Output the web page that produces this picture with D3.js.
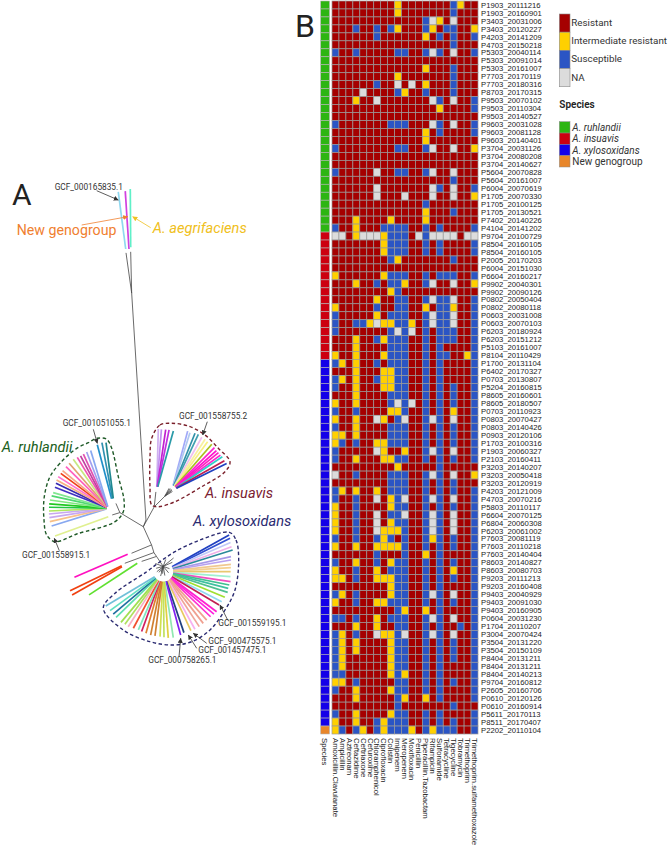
<!DOCTYPE html>
<html>
<head>
<meta charset="utf-8">
<script src="https://cdn.jsdelivr.net/npm/d3@7"></script>
<style>
  html, body { margin: 0; padding: 0; background: #fff; }
  text { font-family: Roboto, sans-serif; }
  .heat-label { font-family: "Liberation Sans", Arial, sans-serif; font-size: 7.7px; fill: #222; }
  .gcf { font-size: 8.3px; fill: #333; }
  .clade { font-size: 14.6px; font-style: italic; }
</style>
</head>
<body>
<div id="chart"></div>
<script>
/* DATA: HEATMAP */
const drugs = ["Amoxicillin.Clavulanate", "Ampicillin", "Aztreonam", "Ceftazidime", "Ceftriaxone", "Cefuroxime",
  "Chloramphenicol", "Ciprofloxacin", "Colistin", "Imipenem", "Meropenem", "Moxifloxacin", "Penicillin",
  "Piperacillin.Tazobactam", "Rifampicin", "Sulfonamide", "Tetracycline", "Tigecycline", "Tobramycin",
  "Trimethoprim", "Trimethoprim.sulfamethoxazole"];

const isolates = ["P1903_20111216", "P1903_20160901", "P3403_20031006", "P3403_20120227", "P4203_20141209",
  "P4703_20150218", "P5303_20040114", "P5303_20091014", "P5303_20161007", "P7703_20170119", "P7703_20180316",
  "P8703_20170315", "P9503_20070102", "P9503_20110304", "P9503_20140527", "P9603_20031028", "P9603_20081128",
  "P9603_20140401", "P3704_20031126", "P3704_20080208", "P3704_20140627", "P5604_20070828", "P5604_20161007",
  "P6004_20070619", "P1705_20070330", "P1705_20100125", "P1705_20130521", "P7402_20140226", "P4104_20141202",
  "P9704_20100729", "P8504_20160105", "P8504_20160105", "P2005_20170203", "P6004_20151030", "P6604_20160217",
  "P9902_20040301", "P9902_20090126", "P0802_20050404", "P0802_20080118", "P0603_20031008", "P0603_20070103",
  "P6203_20180924", "P6203_20151212", "P5103_20161007", "P8104_20110429", "P1700_20131104", "P6402_20170327",
  "P0703_20130807", "P5204_20160815", "P8605_20160601", "P8605_20180507", "P0703_20110923", "P0803_20070427",
  "P0803_20140426", "P0903_20120106", "P1703_20100316", "P1903_20060327", "P2103_20160411", "P3203_20140207",
  "P3203_20050418", "P3203_20120919", "P4203_20121009", "P4703_20070216", "P5803_20110117", "P6604_20070125",
  "P6804_20060308", "P6203_20061002", "P7603_20081119", "P7603_20110218", "P7603_20140404", "P8603_20140827",
  "P8603_20080703", "P9203_20111213", "P9203_20160408", "P9403_20040929", "P9403_20091030", "P9403_20160905",
  "P0604_20031230", "P1704_20110207", "P3004_20070424", "P3504_20131220", "P3504_20150109", "P8404_20131211",
  "P8404_20131211", "P8404_20140213", "P9704_20160812", "P2605_20160706", "P0610_20120126", "P0610_20160914",
  "P5611_20170113", "P8511_20170407", "P2202_20110104"];

// number of consecutive rows per species, top to bottom
const speciesNames = ["A. ruhlandii", "A. insuavis", "A. xylosoxidans", "New genogroup"];
const speciesCounts = [29, 16, 46, 1];
const speciesColors = ["#2db512", "#cc0010", "#1400e8", "#e8862a"];

const callNames = ["Resistant", "Intermediate resistant", "Susceptible", "NA"];
const callCodes = ["R", "I", "S", "N"];
const callColors = ["#a50000", "#ffd000", "#2b55c4", "#dcdcdc"];

// every cell is resistant unless listed here: I/S/N + drug positions
const calls = [
  "I9,18 S17", "I9 S17", "S13 N14,17 I15", "S3,6,8,13,16,17 I9,14,20", "S6,15,17,20 I13", "S17",
  "S0,3,9,10,13,15,20 N14,17", "", "I13 S17", "I9 S17", "S6,17 N9,11 I13", "N4 S9,13,17 I10",
  "I3 N6,14,17 S15,20", "I15 S20", "", "S0,8,9,10,15,20 N14,17", "I13 S15,20", "I13",
  "S0,9,10,13 N14,17 I20", "", "", "S0,9,10,13 N6,14,17", "S17", "N6,14,17 S15,20",
  "N6,10,14,17 I20", "S13", "I13 S17", "I3,8,13", "S0,7,8,9,10,13,15,20 I3",
  "N0,1,4,5,6,12,14,15,16,17,19,20 I3,7 S8,9,10,13",
  "I7 S8,9,10,13,15,20", "I7 S8,9,10,13,15,20", "S8,17 I9", "", "I0,7 S8,9,10,13,15,16,17,20",
  "I3,10,20 S6,8,9,13 N14,17", "I8 S9", "I6 S9,10,13,15,16,20 N14,17", "I0,13,17 S6,9,10,15,16,20",
  "S0,8,9,10,13,15,16,20 I6 N14,17", "S0,3,4,9,10,13,15,16,20 I5,7,8,11 N6,14,17",
  "S0,8,10,13,15,16,17,20 N9,11", "I3,7 S6,8,9,10,13,15,16,17,20", "I3 S8,9,10,13,15,20",
  "I0,3,7,19 S8,9,10,13,15,16,20", "S0,6,8,9,10,13,15,20 I1,3", "I3,7,8 S9,10,13,15,20",
  "S0,6,9,10,13,15,20 I1,3,7,8", "S0,9,10,13,15,17,20 I3,7,8", "I3 S8,9,10,13,15,17,20",
  "I0,3 S8,10,13,15,17,20 N9,11", "S0,3,10,13,15,20 I8,9,17", "I0,3,7 N6,10,14,17 S9,13,15,20",
  "S0,8,9,10,13,15,17,20 I3", "I0,1,3 S8,9,10,13,15,17,20", "I0,6,7 S1,3,8,9,10,13,15,17,20",
  "N6,14,17 I7,10 S0,13,15,20", "S0,9,10,13,15,17,20 I3,7,8", "I9 S15", "N0,14,17 S3,8,9,10,13,15 I20",
  "S8,9,10,13,15,17", "S0,8,9,10,13,15,17,20 I1,3,6", "S0,3,9,13,15,20 N6,10,14,17 I8",
  "I0,8 S3,9,10,13,15,17,20", "I0 S3,8,9,13,15,20 N6,10,14,17", "I0,8 S3,9,10,13,15,20 N6,14,17",
  "I0,7,8,9 S3,10,13,15,20 N6,14,17", "S0,3,6,8,10,13,15,17,20 I7,14", "I0,3,6,7,8,9 S10,13,15,17,20",
  "S6,10,15,20 I13", "S0,6,9,10,13,15,17,20 I3,8", "I0,6,17 S3,8,9,10,13,15,20",
  "I0,1,6,7,8 S3,9,10,13,15,17,20", "I8 S9,10,13,15,20", "S0,3,9,10,13,15,20 I1,8 N14,17",
  "I0,6,7 S3,8,9,10,13,15,17,20", "S9,15,20 I10,13", "S0,1,3,8,9,10,13,15,20 I6 N14,17",
  "I3,6 S9,10,13,15,18,20", "S0,3,9,13,15,20 I1,7,8 N6,10,14,17", "S0,9,10,13,15,17,20 I1,3,8",
  "S0,9,10,13,15,17,20 I1,3,8", "S0,9,10,13,15,17,20 I1,8", "S0,9,10,13,15,20 I1,8",
  "S0,1,9,13,15,20 I8,10", "I0,1 S3,9,10,13,15,17,20", "S0,9,10,13,15,20 I3,8", "I3,10,13 S9,15,20",
  "S9,17", "S0,9,10,13,15,20 I3,8", "I0,3,7 S6,8,9,10,13,15,17,20",
  "I0,4,7,11,14 S1,3,6,8,9,10,13,15,16,17,20"
];

/* DATA: TREE (branch lengths in tree units, angles in degrees clockwise from up) */
const branchParents = [-1, 0, 1, 1, -1, 4, 4, -1, 7, 7, -1, 10, 11, 12, 10, 11, 12,
  13, 13, 13, 13, 13, 13, 13, 13, 13, 13, 13, 13, 13, 9, 9, 9, 9, 9];
const branchAngles = [21.8, 356.4, 352, 358.6, 301, 253, 336.8, 28.8, 6.3, 45, 155.6, 163, 146, 146, 247.4, 249.8, 251.6,
  51, 66, 20, 290, 255, 230, 195, 170, 140, 110, 200, 215, 185, 28, 36, 43, 50, 58];
const branchLengths = [21.5, 682, 122, 124, 82, 24, 30, 68, 45, 45, 60, 24, 14, 36, 65, 93, 47,
  40, 30, 22, 25, 22, 25, 30, 28, 25, 20, 18, 22, 22, 27, 28, 29, 28, 27];

const ruhlandiiAngles = [252.7, 257.1, 261, 264.5, 267.4, 271, 274.2, 278.1, 282.3, 285.9, 291.5, 295.5, 298.7, 302.3,
  306.3, 309.5, 314.5, 319, 324.5, 328.7, 332.1, 335.3, 339, 343];
const ruhlandiiLengths = [178, 180, 179, 179, 178, 178, 178, 177, 174, 172, 172, 174, 177, 178,
  177, 178, 178, 179, 181, 179, 178, 179, 181, 181];
const ruhlandiiColors = ["#88a8f0", "#f8c088", "#c8a8f0", "#c8a8f0", "#b0e860", "#20c840", "#20c820", "#80e880", "#50d870",
  "#80e890", "#4030c0", "#3828b0", "#f8b080", "#ff70d0", "#f04018", "#f8a888", "#ff60c0", "#e0a070", "#c8e880",
  "#f050b0", "#c040a0", "#e050b0", "#a0a0f0", "#88a8f0"];

const ruhlandiiTopAngles = [345.2, 349.3, 352.6];
const ruhlandiiTopLengths = [208, 211, 209];
const ruhlandiiTopColors = ["#2090c8", "#3090b0", "#208890"];

const insuavisLeftAngles = [1.5, 4.4, 8.4, 11.5, 15.6];
const insuavisLeftLengths = [185, 184.5, 185, 186, 186];
const insuavisLeftColors = ["#d0b0f0", "#c090f0", "#c020d0", "#c030e0", "#2a9aa8"];

const insuavisRightAngles = [15, 17.5, 22.1, 25.3, 29.4, 33, 36.3, 40.8, 44.8, 48.2, 50.8, 53.8, 56.1, 60.3, 63.6];
const insuavisRightLengths = [185, 182, 186, 187, 184, 184, 182, 184, 182, 180, 181, 181, 183, 182, 184];
const insuavisRightColors = ["#a0a8f8", "#b0c8f0", "#3090a8", "#40a0b0", "#f0c0f0", "#f8f0a0", "#f8f080", "#a8c020",
  "#ff20d0", "#ff10d0", "#ff20c0", "#ff20d0", "#30d0c8", "#c02050", "#2040c0"];

const xyloAngles = [60.9, 63.4, 66.5, 69.9, 72.6, 77.5, 80.2, 83.8, 86.6, 90, 94.2, 98.4, 101.4, 104.4, 107.8, 112.6, 117.2, 120.8,
  126.9, 129.9, 133.6, 138.1, 142.3, 146.8, 151.2, 154.9, 161.3, 164.7, 171.4, 175.7, 179.4, 182.9, 187.4, 191.3, 195.7, 199.9,
  203.2, 207.9, 212.5, 216.2, 219.9, 226, 229.7, 233.8, 239.2];
const xyloLengths = [226, 224, 220, 218, 218, 208, 206, 204, 203, 202, 202, 204, 202, 201, 203, 200, 197, 195,
  200, 198, 196, 195, 196, 197, 197, 195, 193, 197, 200, 199, 197, 195, 194, 194, 192, 191,
  190, 192, 196, 195, 198, 197, 197, 198, 201];
const xyloColors = ["#2040c0", "#3050d0", "#c0c8f8", "#f0b0e8", "#2a8a9a", "#a898e8", "#b8a0f0", "#f0c890", "#f5d090", "#e8c870",
  "#a0f0d0", "#f050c0", "#40c090", "#40c0a0", "#50c090", "#a0e030", "#90d8f0", "#c02050",
  "#ff20d0", "#ff20e0", "#ff30d0", "#f0a090", "#f0a090", "#f0a498", "#f8b0f0", "#e8c860", "#204080", "#8020f0",
  "#90e8b0", "#e0d040", "#c0e060", "#d0e050", "#d08030", "#d08030", "#e08030", "#d02060",
  "#80e8c0", "#f05030", "#f8b0c8", "#b0e060", "#a0e050", "#60e0b0", "#2070a0", "#60e0c0", "#70c0d8"];

// single tips that sit away from the big fans
const loneAngles = [352.6, 356.3, 359.6, 246.7, 244.2, 240.5, 236.8, 250.1];
const loneLengths = [173, 174, 175, 174, 172, 172, 173, 170];
const loneColors = ["#8fd8f0", "#d040e0", "#60f0c8", "#ff10c0", "#f04010", "#f04010", "#60e030", "#e0f090"];

/* LAYOUT */
const width = 670, height = 847;
const heatX = [332, 478], heatY = [1, 734];
const speciesBar = { x: 320.7, width: 8.8 };
const rowLabelX = 481, colLabelY = 738;
const loneHubs = [[125.7, 249], [129, 249], [130.7, 247.3], [127.7, 554.3], [121.7, 565.7], [122, 566.7], [137.3, 563.3], [108.3, 516.7]];

const svg = d3.select("#chart").append("svg")
  .attr("width", width)
  .attr("height", height)
  .style("display", "block");

/* HEATMAP */
const xScale = d3.scaleBand().domain(drugs).range(heatX);
const yScale = d3.scaleBand().domain(d3.range(isolates.length)).range(heatY);
const callColor = d3.scaleOrdinal().domain(callCodes).range(callColors);
const speciesColor = d3.scaleOrdinal().domain(speciesNames).range(speciesColors);

const speciesByRow = speciesNames.flatMap((s, i) => d3.range(speciesCounts[i]).map(() => s));

const cells = calls.flatMap((txt, row) => {
  const rowCells = drugs.map((drug, col) => ({ row, col, drug, call: "R" }));
  txt.split(" ").filter(d => d).forEach(part => {
    part.slice(1).split(",").forEach(c => { rowCells[+c].call = part[0]; });
  });
  return rowCells;
});

svg.append("g").attr("class", "cells")
  .selectAll("rect")
  .data(cells)
  .join("rect")
  .attr("x", d => xScale(d.drug))
  .attr("y", d => yScale(d.row))
  .attr("width", xScale.bandwidth())
  .attr("height", yScale.bandwidth())
  .attr("fill", d => callColor(d.call))
  .attr("stroke", "#9a9a9a")
  .attr("stroke-width", 0.7);

svg.append("g").attr("class", "species")
  .selectAll("rect")
  .data(speciesByRow)
  .join("rect")
  .attr("x", speciesBar.x)
  .attr("y", (d, i) => yScale(i))
  .attr("width", speciesBar.width)
  .attr("height", yScale.bandwidth())
  .attr("fill", d => speciesColor(d))
  .attr("stroke", "#b5b5b5")
  .attr("stroke-width", 0.6);

svg.append("g").attr("class", "row-labels")
  .selectAll("text")
  .data(isolates)
  .join("text")
  .attr("class", "heat-label")
  .attr("x", rowLabelX)
  .attr("y", (d, i) => yScale(i) + yScale.bandwidth() / 2)
  .attr("dy", "0.35em")
  .text(d => d);

svg.append("g").attr("class", "col-labels")
  .selectAll("text")
  .data(["Species"].concat(drugs))
  .join("text")
  .attr("class", "heat-label")
  .attr("transform", (d, i) => {
    const cx = i === 0 ? speciesBar.x + speciesBar.width / 2 : xScale(d) + xScale.bandwidth() / 2;
    return `translate(${cx}, ${colLabelY}) rotate(90)`;
  })
  .attr("dy", "0.35em")
  .text(d => d);

/* LEGENDS */
const legendX = 559.3;
const callLegendY = d3.scaleBand().domain(callNames).range([14, 86.7]);
const speciesLegendY = d3.scaleBand().domain(speciesNames).range([121.7, 167]);

const callLegend = svg.append("g").attr("class", "legend");
callLegend.selectAll("rect")
  .data(callNames)
  .join("rect")
  .attr("x", legendX)
  .attr("y", d => callLegendY(d))
  .attr("width", 10.7)
  .attr("height", callLegendY.bandwidth())
  .attr("fill", (d, i) => callColors[i])
  .attr("stroke", "#8a8a8a")
  .attr("stroke-width", 0.6);
callLegend.selectAll("text")
  .data(callNames)
  .join("text")
  .attr("x", legendX + 12)
  .attr("y", d => callLegendY(d) + callLegendY.bandwidth() / 2 - 0.5)
  .attr("dy", "0.35em")
  .attr("font-size", 9.8)
  .attr("fill", "#333")
  .text(d => d);

svg.append("text")
  .attr("x", legendX)
  .attr("y", 107.5)
  .attr("font-size", 10)
  .attr("font-weight", 600)
  .attr("fill", "#222")
  .text("Species");

const speciesLegend = svg.append("g").attr("class", "legend");
speciesLegend.selectAll("rect")
  .data(speciesNames)
  .join("rect")
  .attr("x", legendX)
  .attr("y", d => speciesLegendY(d))
  .attr("width", 10.7)
  .attr("height", speciesLegendY.bandwidth())
  .attr("fill", d => speciesColor(d))
  .attr("stroke", "#8a8a8a")
  .attr("stroke-width", 0.5);
speciesLegend.selectAll("text")
  .data(speciesNames)
  .join("text")
  .attr("x", legendX + 13)
  .attr("y", d => speciesLegendY(d) + speciesLegendY.bandwidth() / 2)
  .attr("dy", "0.35em")
  .attr("font-size", 10)
  .attr("font-style", d => d === "New genogroup" ? "normal" : "italic")
  .attr("fill", "#333")
  .text(d => d);

/* PANEL LETTERS */
svg.append("text").attr("x", 12).attr("y", 205).attr("font-size", 30).attr("fill", "#222").text("A");
svg.append("text").attr("x", 295).attr("y", 37).attr("font-size", 32).attr("fill", "#222").text("B");

/* TREE */
const treeScale = d3.scaleLinear().domain([0, 300]).range([0, 100]);
const rad = d => d * Math.PI / 180;
const treeRoot = [143.3, 526.7];

// walk the branches: parents always come before their children
const branchEnds = [];
const branches = branchParents.map((p, i) => {
  const start = p < 0 ? treeRoot : branchEnds[p];
  const step = d3.pointRadial(rad(branchAngles[i]), treeScale(branchLengths[i]));
  const end = [start[0] + step[0], start[1] + step[1]];
  branchEnds.push(end);
  return { start, end };
});

const treeG = svg.append("g").attr("class", "tree");

treeG.selectAll("line.branch")
  .data(branches)
  .join("line")
  .attr("class", "branch")
  .attr("x1", d => d.start[0])
  .attr("y1", d => d.start[1])
  .attr("x2", d => d.end[0])
  .attr("y2", d => d.end[1])
  .attr("stroke", "#444")
  .attr("stroke-width", 0.8);

function drawTips(hub, angles, lengths, colors, inner) {
  const tips = angles.map((a, i) => ({ a, len: lengths[i], color: colors[i] }));
  treeG.append("g")
    .selectAll("line")
    .data(tips)
    .join("line")
    .attr("x1", d => hub[0] + d3.pointRadial(rad(d.a), treeScale(inner))[0])
    .attr("y1", d => hub[1] + d3.pointRadial(rad(d.a), treeScale(inner))[1])
    .attr("x2", d => hub[0] + d3.pointRadial(rad(d.a), treeScale(d.len))[0])
    .attr("y2", d => hub[1] + d3.pointRadial(rad(d.a), treeScale(d.len))[1])
    .attr("stroke", d => d.color)
    .attr("stroke-width", 1.7);
}

drawTips([108.3, 508.3], ruhlandiiAngles, ruhlandiiLengths, ruhlandiiColors, 6);
drawTips([115, 511.7], ruhlandiiTopAngles, ruhlandiiTopLengths, ruhlandiiTopColors, 40);
drawTips([156.7, 490.7], insuavisLeftAngles, insuavisLeftLengths, insuavisLeftColors, 12);
drawTips([171.7, 490.7], insuavisRightAngles, insuavisRightLengths, insuavisRightColors, 16);
drawTips([163.3, 571.7], xyloAngles, xyloLengths, xyloColors, 30);

loneHubs.forEach((hub, i) => {
  drawTips(hub, [loneAngles[i]], [loneLengths[i]], [loneColors[i]], 0);
});

/* CLADE OUTLINES */
const hull = d3.line().curve(d3.curveCatmullRomClosed.alpha(0.5));
const hullRuhlandii = [[76.7, 448.3], [60, 463.3], [50, 476.7], [44.3, 496.7], [44, 520], [46.7, 535], [55, 541.7],
  [76.7, 534], [115, 521.7], [123.3, 511.7], [124, 500], [118.3, 476.7], [111.7, 448.3], [106.7, 439.3], [96.7, 438.3], [88.3, 442.7]];
const hullInsuavis = [[151.7, 438.3], [160, 425], [171.7, 423.3], [188.3, 426], [205, 435], [218.3, 448.3], [230, 461.7],
  [225, 471.7], [201.7, 486.7], [175, 501.7], [158.3, 506.7], [151.7, 505], [150, 486.7], [150, 456.7]];
const hullXylo = [[229.3, 532.3], [236, 540], [238.7, 560], [235, 590], [225, 610], [210, 630], [191.7, 641.7], [173.3, 645],
  [150, 641.7], [123.3, 630], [103.3, 608.3], [115, 593.3], [146.7, 571.7], [160, 561.7], [175, 551.7], [200, 540]];

treeG.selectAll("path.hull")
  .data([
    { pts: hullRuhlandii, color: "#1f5a28" },
    { pts: hullInsuavis, color: "#7a1f2a" },
    { pts: hullXylo, color: "#2a2a70" }
  ])
  .join("path")
  .attr("class", "hull")
  .attr("d", d => hull(d.pts))
  .attr("fill", "none")
  .attr("stroke", d => d.color)
  .attr("stroke-width", 1.4)
  .attr("stroke-dasharray", "3.5,2.5");

/* ANNOTATIONS */
const defs = svg.append("defs");
["#333", "#f08030", "#f0c020"].forEach((c, i) => {
  defs.append("marker")
    .attr("id", "head" + i)
    .attr("viewBox", "0 0 6 6")
    .attr("refX", 5.5).attr("refY", 3)
    .attr("markerWidth", 5).attr("markerHeight", 5)
    .attr("markerUnits", "userSpaceOnUse")
    .attr("orient", "auto")
    .append("path").attr("d", "M0,0L6,3L0,6z").attr("fill", c);
});

const arrowList = [
  { from: [96.7, 190.7], to: [118.3, 200], color: "#333", head: 0 },
  { from: [81.7, 225], to: [127.7, 216.7], color: "#f08030", head: 1 },
  { from: [150.7, 227.7], to: [132.7, 216.7], color: "#f0c020", head: 2 },
  { from: [93.3, 429.3], to: [97.3, 443.3], color: "#333", head: 0 },
  { from: [207.3, 421.7], to: [202.7, 435], color: "#333", head: 0 },
  { from: [59.3, 550.7], to: [54.3, 538.3], color: "#333", head: 0 },
  { from: [227.7, 620], to: [220, 605], color: "#333", head: 0 },
  { from: [206.7, 643.3], to: [193.3, 633.3], color: "#333", head: 0 },
  { from: [196.7, 648.3], to: [188.3, 635], color: "#333", head: 0 },
  { from: [179, 656.7], to: [180.7, 638.3], color: "#333", head: 0 }
];
svg.append("g").selectAll("line")
  .data(arrowList)
  .join("line")
  .attr("x1", d => d.from[0])
  .attr("y1", d => d.from[1])
  .attr("x2", d => d.to[0])
  .attr("y2", d => d.to[1])
  .attr("stroke", d => d.color)
  .attr("stroke-width", 0.8)
  .attr("marker-end", d => `url(#head${d.head})`);

const gcfLabels = [
  { t: "GCF_000165835.1", x: 54.7, y: 190 },
  { t: "GCF_001051055.1", x: 62.7, y: 426 },
  { t: "GCF_001558755.2", x: 179, y: 419 },
  { t: "GCF_001558915.1", x: 22, y: 558 },
  { t: "GCF_001559195.1", x: 218.3, y: 626 },
  { t: "GCF_900475575.1", x: 208.3, y: 644 },
  { t: "GCF_001457475.1", x: 198.3, y: 653 },
  { t: "GCF_000758265.1", x: 148.3, y: 663 }
];
svg.append("g").selectAll("text")
  .data(gcfLabels)
  .join("text")
  .attr("class", "gcf")
  .attr("x", d => d.x)
  .attr("y", d => d.y)
  .text(d => d.t);

svg.append("text").attr("x", 16.7).attr("y", 235).attr("font-size", 14.2).attr("fill", "#f08030").text("New genogroup");

const cladeLabels = [
  { t: "A. aegrifaciens", x: 152.7, y: 232.7, color: "#f0c020" },
  { t: "A. ruhlandii", x: 1.7, y: 451.7, color: "#1a6020" },
  { t: "A. insuavis", x: 205, y: 498, color: "#7a2030" },
  { t: "A. xylosoxidans", x: 193, y: 526, color: "#2a2a70" }
];
svg.append("g").selectAll("text")
  .data(cladeLabels)
  .join("text")
  .attr("class", "clade")
  .attr("x", d => d.x)
  .attr("y", d => d.y)
  .attr("fill", d => d.color)
  .text(d => d.t);
</script>
</body>
</html>
